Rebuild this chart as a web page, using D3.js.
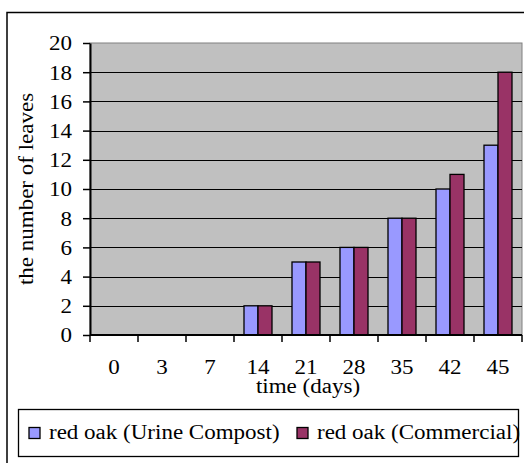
<!DOCTYPE html>
<html>
<head>
<meta charset="utf-8">
<script src="https://cdn.jsdelivr.net/npm/d3@7"></script>
<style>
	body { margin: 0; background: #fff; }
	svg text { font-family: "Liberation Serif", "Times New Roman", serif; font-size: 20px; fill: #000; }
</style>
</head>
<body>
<svg id="chart" width="524" height="463"></svg>
<script>
// chart data
const days = ['0', '3', '7', '14', '21', '28', '35', '42', '45']
const seriesNames = ['red oak (Urine Compost)', 'red oak (Commercial)']
const urineCompost = [0, 0, 0, 2, 5, 6, 8, 10, 13]
const commercial = [0, 0, 0, 2, 5, 6, 8, 11, 18]
const yTicks = [0, 2, 4, 6, 8, 10, 12, 14, 16, 18, 20]
const colors = ['#9999FF', '#993366']

const svg = d3.select('#chart')
const stretch = 1.15

// widen text a bit like the original rendering
function widen(sel) {
	sel.each(function () {
		const w = this.getComputedTextLength()
		d3.select(this).attr('textLength', w * stretch).attr('lengthAdjust', 'spacingAndGlyphs')
	})
}

// outer chart frame (cut off at right and bottom)
svg.append('rect')
	.attr('x', 7).attr('y', 12.5)
	.attr('width', 530).attr('height', 470)
	.attr('fill', 'none').attr('stroke', '#000').attr('stroke-width', 1.5)

const plotLeft = 90, plotRight = 522, plotTop = 43, plotBottom = 335

const x = d3.scaleBand().domain(days).range([plotLeft, plotRight])
const inner = d3.scaleBand().domain(seriesNames).range([10, 38])
const y = d3.scaleLinear().domain([0, 20]).range([plotBottom, plotTop])

// plot area
svg.append('rect')
	.attr('x', plotLeft).attr('y', plotTop)
	.attr('width', plotRight - plotLeft).attr('height', plotBottom - plotTop)
	.attr('fill', '#C0C0C0').attr('stroke', '#808080').attr('stroke-width', 1)

// gridlines
svg.append('g')
	.selectAll('line')
	.data(yTicks.filter(d => d > 0 && d < 20))
	.join('line')
	.attr('x1', plotLeft).attr('x2', plotRight)
	.attr('y1', d => Math.round(y(d)) + 0.5).attr('y2', d => Math.round(y(d)) + 0.5)
	.attr('stroke', '#000').attr('stroke-width', 1)

// bars
const rows = days.map((d, i) => ({ day: d, values: [urineCompost[i], commercial[i]] }))
const groups = svg.append('g')
	.selectAll('g')
	.data(rows)
	.join('g')
	.attr('transform', d => `translate(${x(d.day)},0)`)

groups.selectAll('rect')
	.data(d => d.values.map((v, k) => ({ name: seriesNames[k], value: v, k: k })).filter(d => d.value > 0))
	.join('rect')
	.attr('x', d => inner(d.name))
	.attr('width', inner.bandwidth())
	.attr('y', d => y(d.value))
	.attr('height', d => y(0) - y(d.value))
	.attr('fill', d => colors[d.k])
	.attr('stroke', '#000').attr('stroke-width', 1.3)

// y axis
const yAxis = svg.append('g')
	.attr('transform', `translate(${plotLeft},0)`)
	.call(d3.axisLeft(y).tickValues(yTicks).tickSize(7).tickPadding(11).tickSizeOuter(0))
yAxis.attr('font-family', null).attr('font-size', null)
yAxis.select('.domain').attr('stroke', '#000').attr('stroke-width', 2)
yAxis.selectAll('.tick line').attr('stroke', '#000').attr('stroke-width', 1.5)
yAxis.selectAll('text')
	.attr('dy', '0.34em')
	.call(widen)

// x axis with ticks between categories
const xAxis = svg.append('g')
xAxis.append('line')
	.attr('x1', plotLeft).attr('x2', plotRight)
	.attr('y1', plotBottom).attr('y2', plotBottom)
	.attr('stroke', '#000').attr('stroke-width', 2)
xAxis.selectAll('.tk')
	.data(days.map(d => x(d)).concat([plotRight]))
	.join('line')
	.attr('class', 'tk')
	.attr('x1', d => d).attr('x2', d => d)
	.attr('y1', plotBottom).attr('y2', plotBottom + 7)
	.attr('stroke', '#000').attr('stroke-width', 1.5)
xAxis.selectAll('text')
	.data(days)
	.join('text')
	.attr('x', d => x(d) + x.bandwidth() / 2)
	.attr('y', 374)
	.attr('text-anchor', 'middle')
	.text(d => d)
	.call(widen)

// axis titles
svg.append('text')
	.attr('x', 308).attr('y', 393)
	.attr('text-anchor', 'middle')
	.text('time (days)')
	.call(widen)

svg.append('text')
	.attr('transform', `translate(33,${(plotTop + plotBottom) / 2}) rotate(-90)`)
	.attr('text-anchor', 'middle')
	.text('the number of leaves')
	.call(widen)

// legend
const legend = svg.append('g')
legend.append('rect')
	.attr('x', 18.5).attr('y', 409.5)
	.attr('width', 500).attr('height', 47)
	.attr('fill', '#fff').attr('stroke', '#000').attr('stroke-width', 1.3)

const legendX = [29, 297]
seriesNames.forEach((name, k) => {
	legend.append('rect')
		.attr('x', legendX[k]).attr('y', 427.5)
		.attr('width', 11).attr('height', 11)
		.attr('fill', colors[k]).attr('stroke', '#000').attr('stroke-width', 1.3)
	legend.append('text')
		.attr('x', legendX[k] + 20).attr('y', 439)
		.text(name)
		.call(widen)
})
</script>
</body>
</html>
